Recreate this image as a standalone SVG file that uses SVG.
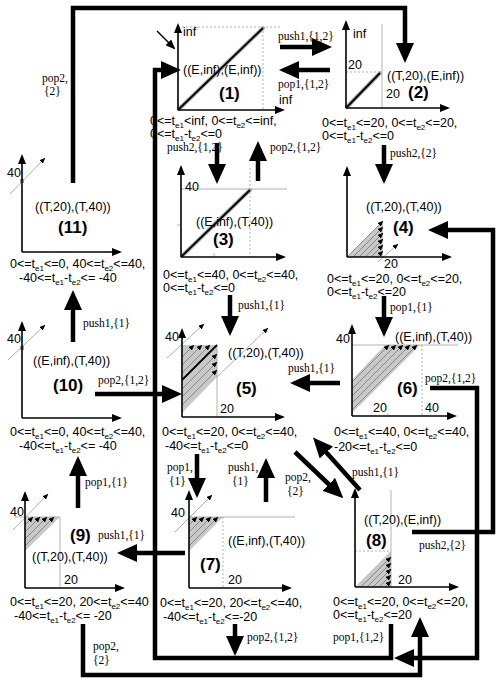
<svg xmlns="http://www.w3.org/2000/svg" width="500" height="684" viewBox="0 0 500 684">
<defs>
<style>
.t{font-family:"Liberation Sans",Arial,sans-serif;font-size:12.5px;fill:#000}
.s{font-size:8px}
.b{font-family:"Liberation Sans",Arial,sans-serif;font-weight:bold;font-size:17px;fill:#000}
.r{font-family:"Liberation Serif","Times New Roman",serif;font-size:11.5px;fill:#000}
.ax{stroke:#000;stroke-width:1.6;fill:none;marker-end:url(#ah)}
.th{stroke:#000;stroke-width:4.5;fill:none;stroke-linejoin:miter;marker-end:url(#big)}
.g{stroke:#aaa;stroke-width:0.9;fill:none}
.dot{stroke:#aaa;stroke-width:0.9;stroke-dasharray:2 2;fill:none}
.sh{fill:#c8c8c8;stroke:none}
.h{stroke:#777;stroke-width:0.8;marker-end:url(#sm)}
.da{stroke:#999;stroke-width:0.8;marker-end:url(#sm)}
.dg{stroke:#aaa;stroke-width:4;stroke-linecap:round}
.dk{stroke:#000;stroke-width:1.8}
</style>
<marker id="big" markerUnits="userSpaceOnUse" markerWidth="20" markerHeight="18" refX="14" refY="9" orient="auto"><path d="M0,0 L20,9 L0,18 z" fill="#000"/></marker>
<marker id="ah" markerUnits="userSpaceOnUse" markerWidth="10" markerHeight="8" refX="8" refY="4" orient="auto"><path d="M0,0 L10,4 L0,8 z" fill="#000"/></marker>
<marker id="sm" markerUnits="userSpaceOnUse" markerWidth="6" markerHeight="5" refX="5.5" refY="2.5" orient="auto"><path d="M0,0 L6,2.5 L0,5 z" fill="#000"/></marker>
</defs>

<g id="connectors">
<path class="th" d="M280,47 H326"/>
<path class="th" d="M330,70 H285"/>
<path class="th" d="M217,143 V178"/>
<path class="th" d="M258,181 V147"/>
<path class="th" d="M384,145 V178"/>
<path class="th" d="M230,295 V330"/>
<path class="th" d="M384,296 V331"/>
<path class="th" d="M340,383 H296"/>
<path class="th" d="M430,388 H477 V658 H400"/>
<path class="th" d="M391,624 V658 H155 V70 H175"/>
<path class="th" d="M83,624 V675 H420 V623"/>
<path class="th" d="M412,532 H493 V230 H434"/>
<path class="th" d="M235,624 V650"/>
<path class="th" d="M197,454 V492"/>
<path class="th" d="M266,502 V464"/>
<path class="th" d="M185,553 H123"/>
<path class="th" d="M78,508 V462"/>
<path class="th" d="M73,342 V296"/>
<path class="th" d="M73,183 V8 H405 V57"/>
<path class="th" d="M95,394 H176"/>
<path class="th" d="M295,452 L339,494"/>
<path class="th" d="M360,490 L317,442"/>
<path d="M157,31 L174,48" stroke="#000" stroke-width="1.4" marker-end="url(#ah)"/>
<text class="r" x="42" y="82">pop2,</text><text class="r" x="44" y="95">{2}</text>
<text class="r" x="278" y="40">push1,{1,2}</text>
<text class="r" x="278" y="88">pop1,{1,2}</text>
<text class="r" x="167" y="151">push2,{1,2}</text>
<text class="r" x="270" y="151">pop2,{1,2}</text>
<text class="r" x="390" y="157">push2,{2}</text>
<text class="r" x="238" y="309">push1,{1}</text>
<text class="r" x="390" y="311">pop1,{1}</text>
<text class="r" x="83" y="327">push1,{1}</text>
<text class="r" x="98" y="384">pop2,{1,2}</text>
<text class="r" x="288" y="372">push1,{1}</text>
<text class="r" x="425" y="382">pop2,{1,2}</text>
<text class="r" x="167" y="471">pop1,</text><text class="r" x="169" y="485">{1}</text>
<text class="r" x="228" y="471">push1,</text><text class="r" x="232" y="485">{1}</text>
<text class="r" x="285" y="481">pop2,</text><text class="r" x="287" y="495">{2}</text>
<text class="r" x="352" y="476">push1,{1}</text>
<text class="r" x="85" y="486">pop1,{1}</text>
<text class="r" x="98" y="539">push1,{1}</text>
<text class="r" x="419" y="549">push2,{2}</text>
<text class="r" x="333" y="641">pop1,{1,2}</text>
<text class="r" x="247" y="641">pop2,{1,2}</text>
<text class="r" x="93" y="650">pop2,</text><text class="r" x="93" y="664">{2}</text>
</g>

<g id="n1">
<path class="dot" d="M178,27 H282 M263,27 V110"/>
<line class="dg" x1="179" y1="109" x2="263" y2="28"/>
<line class="dk" x1="179" y1="109" x2="263" y2="28"/>
<path class="ax" d="M178,110 V25"/>
<path class="ax" d="M178,110 H283"/>
<text class="t" x="183" y="36">inf</text>
<text class="t" x="279" y="104">inf</text>
<text class="t" x="183" y="74">((E,inf),(E,inf))</text>
<text class="b" x="219" y="99">(1)</text>
<text class="t" x="150" y="125">0&lt;=t<tspan class="s" dy="2.5">e1</tspan><tspan dy="-2.5">&lt;inf, 0&lt;=t</tspan><tspan class="s" dy="2.5">e2</tspan><tspan dy="-2.5">&lt;=inf,</tspan></text>
<text class="t" x="150" y="138">0&lt;=t<tspan class="s" dy="2.5">e1</tspan><tspan dy="-2.5">-t</tspan><tspan class="s" dy="2.5">e2</tspan><tspan dy="-2.5">&lt;=0</tspan></text>
</g>

<g id="n2">
<path class="dot" d="M346,72 H380"/>
<path class="g" d="M382,24 V108"/>
<line class="dg" x1="347" y1="107" x2="380" y2="73"/>
<line class="dk" x1="347" y1="107" x2="380" y2="73"/>
<path class="ax" d="M346,108 V22"/>
<path class="ax" d="M346,108 H448"/>
<text class="t" x="353" y="38">inf</text>
<text class="t" x="348" y="69">20</text>
<text class="t" x="387" y="80">((T,20),(E,inf))</text>
<text class="t" x="386" y="98">20</text>
<text class="b" x="408" y="98">(2)</text>
<text class="t" x="322" y="127">0&lt;=t<tspan class="s" dy="2.5">e1</tspan><tspan dy="-2.5">&lt;=20, 0&lt;=t</tspan><tspan class="s" dy="2.5">e2</tspan><tspan dy="-2.5">&lt;=20,</tspan></text>
<text class="t" x="322" y="140">0&lt;=t<tspan class="s" dy="2.5">e1</tspan><tspan dy="-2.5">-t</tspan><tspan class="s" dy="2.5">e2</tspan><tspan dy="-2.5">&lt;=0</tspan></text>
</g>

<g id="n3">
<path class="g" d="M181,189 H287 M214,253 V257 M177,225 H181"/>
<path class="dot" d="M250,168 V257"/>
<line class="dg" x1="182" y1="256" x2="250" y2="190"/>
<line class="dk" x1="182" y1="256" x2="250" y2="190"/>
<path class="ax" d="M181,257 V167"/>
<path class="ax" d="M181,257 H284"/>
<text class="t" x="185" y="191">40</text>
<text class="t" x="196" y="226">((E,inf),(T,40))</text>
<text class="b" x="213" y="245">(3)</text>
<text class="t" x="163" y="279">0&lt;=t<tspan class="s" dy="2.5">e1</tspan><tspan dy="-2.5">&lt;=40, 0&lt;=t</tspan><tspan class="s" dy="2.5">e2</tspan><tspan dy="-2.5">&lt;=40,</tspan></text>
<text class="t" x="163" y="292">0&lt;=t<tspan class="s" dy="2.5">e1</tspan><tspan dy="-2.5">-t</tspan><tspan class="s" dy="2.5">e2</tspan><tspan dy="-2.5">&lt;=0</tspan></text>
</g>

<g id="n4">
<polygon class="sh" points="347,257 383,221 383,257"/>
<line class="h" x1="347" y1="257" x2="383" y2="221"/>
<line class="h" x1="353" y1="257" x2="383" y2="227"/>
<line class="h" x1="359" y1="257" x2="383" y2="233"/>
<line class="h" x1="365" y1="257" x2="383" y2="239"/>
<line class="h" x1="371" y1="257" x2="383" y2="245"/>
<line class="h" x1="377" y1="257" x2="383" y2="251"/>
<line class="da" x1="378" y1="262" x2="398" y2="244"/>
<path class="ax" d="M347,257 V168"/>
<path class="ax" d="M347,257 H450"/>
<text class="t" x="384" y="268">20</text>
<text class="t" x="366" y="211">((T,20),(T,40))</text>
<text class="b" x="393" y="233">(4)</text>
<text class="t" x="327" y="283">0&lt;=t<tspan class="s" dy="2.5">e1</tspan><tspan dy="-2.5">&lt;=20, 0&lt;=t</tspan><tspan class="s" dy="2.5">e2</tspan><tspan dy="-2.5">&lt;=20,</tspan></text>
<text class="t" x="327" y="296">0&lt;=t<tspan class="s" dy="2.5">e1</tspan><tspan dy="-2.5">-t</tspan><tspan class="s" dy="2.5">e2</tspan><tspan dy="-2.5">&lt;=20</tspan></text>
</g>

<g id="n5">
<polygon class="sh" points="182,345 217,345 217,377 182,413"/>
<path class="g" d="M217,345 V417"/>
<line class="h" x1="182" y1="405" x2="217" y2="370"/>
<line class="h" x1="182" y1="397" x2="217" y2="362"/>
<line class="h" x1="182" y1="389" x2="217" y2="354"/>
<line class="h" x1="182" y1="373" x2="210" y2="345"/>
<line class="h" x1="182" y1="365" x2="202" y2="345"/>
<line class="h" x1="182" y1="357" x2="194" y2="345"/>
<line x1="182" y1="380" x2="217" y2="345" stroke="#000" stroke-width="1.8"/>
<line class="da" x1="167" y1="358" x2="204" y2="324"/>
<line class="da" x1="217" y1="377" x2="268" y2="328"/>
<path class="ax" d="M182,417 V330"/>
<path class="ax" d="M182,417 H283"/>
<text class="t" x="165" y="341">40</text>
<text class="t" x="228" y="357">((T,20),(T,40))</text>
<text class="b" x="236" y="394">(5)</text>
<text class="t" x="220" y="413">20</text>
<text class="t" x="162" y="436">0&lt;=t<tspan class="s" dy="2.5">e1</tspan><tspan dy="-2.5">&lt;=20, 0&lt;=t</tspan><tspan class="s" dy="2.5">e2</tspan><tspan dy="-2.5">&lt;=40,</tspan></text>
<text class="t" x="165" y="450">-40&lt;=t<tspan class="s" dy="2.5">e1</tspan><tspan dy="-2.5">-t</tspan><tspan class="s" dy="2.5">e2</tspan><tspan dy="-2.5">&lt;=0</tspan></text>
</g>

<g id="n6">
<polygon class="sh" points="352,413 352,380 385,345 420,345"/>
<path class="g" d="M352,345 H458 M388,413 V416"/>
<path class="dot" d="M422,345 V416"/>
<line class="h" x1="352" y1="382" x2="389" y2="345"/>
<line class="h" x1="352" y1="389" x2="396" y2="345"/>
<line class="h" x1="352" y1="396" x2="403" y2="345"/>
<line class="h" x1="352" y1="403" x2="410" y2="345"/>
<line class="h" x1="352" y1="410" x2="417" y2="345"/>
<path class="ax" d="M352,416 V326"/>
<path class="ax" d="M352,416 H455"/>
<text class="t" x="336" y="343">40</text>
<text class="t" x="395" y="341">((E,inf),(T,40))</text>
<text class="b" x="397" y="394">(6)</text>
<text class="t" x="373" y="412">20</text>
<text class="t" x="425" y="412">40</text>
<text class="t" x="334" y="436">0&lt;=t<tspan class="s" dy="2.5">e1</tspan><tspan dy="-2.5">&lt;=40, 0&lt;=t</tspan><tspan class="s" dy="2.5">e2</tspan><tspan dy="-2.5">&lt;=40,</tspan></text>
<text class="t" x="334" y="451">-20&lt;=t<tspan class="s" dy="2.5">e1</tspan><tspan dy="-2.5">-t</tspan><tspan class="s" dy="2.5">e2</tspan><tspan dy="-2.5">&lt;=0</tspan></text>
</g>

<g id="n7">
<polygon class="sh" points="189,517 223,517 189,551"/>
<path class="g" d="M189,517 H295"/>
<path class="dot" d="M223,517 V588"/>
<line class="h" x1="189" y1="525" x2="197" y2="517"/>
<line class="h" x1="189" y1="532" x2="204" y2="517"/>
<line class="h" x1="189" y1="539" x2="211" y2="517"/>
<line class="h" x1="189" y1="546" x2="218" y2="517"/>
<line class="da" x1="175" y1="532" x2="212" y2="495"/>
<path class="ax" d="M189,588 V492"/>
<path class="ax" d="M189,588 H290"/>
<text class="t" x="171" y="517">40</text>
<text class="t" x="228" y="545">((E,inf),(T,40))</text>
<text class="b" x="200" y="570">(7)</text>
<text class="t" x="228" y="584">20</text>
<text class="t" x="160" y="607">0&lt;=t<tspan class="s" dy="2.5">e1</tspan><tspan dy="-2.5">&lt;=20, 20&lt;=t</tspan><tspan class="s" dy="2.5">e2</tspan><tspan dy="-2.5">&lt;=40,</tspan></text>
<text class="t" x="163" y="621">-40&lt;=t<tspan class="s" dy="2.5">e1</tspan><tspan dy="-2.5">-t</tspan><tspan class="s" dy="2.5">e2</tspan><tspan dy="-2.5">&lt;=-20</tspan></text>
</g>

<g id="n8">
<polygon class="sh" points="355,587 391,587 391,551"/>
<path class="g" d="M391,490 V587"/>
<path class="dot" d="M355,551 H391"/>
<line class="h" x1="361" y1="587" x2="391" y2="557"/>
<line class="h" x1="367" y1="587" x2="391" y2="563"/>
<line class="h" x1="373" y1="587" x2="391" y2="569"/>
<line class="h" x1="379" y1="587" x2="391" y2="575"/>
<line class="h" x1="385" y1="587" x2="391" y2="581"/>
<path class="ax" d="M355,587 V490"/>
<path class="ax" d="M355,587 H457"/>
<text class="t" x="398" y="584">20</text>
<text class="t" x="364" y="524">((T,20),(E,inf))</text>
<text class="b" x="366" y="546">(8)</text>
<text class="t" x="333" y="606">0&lt;=t<tspan class="s" dy="2.5">e1</tspan><tspan dy="-2.5">&lt;=20, 0&lt;=t</tspan><tspan class="s" dy="2.5">e2</tspan><tspan dy="-2.5">&lt;=20,</tspan></text>
<text class="t" x="333" y="619">0&lt;=t<tspan class="s" dy="2.5">e1</tspan><tspan dy="-2.5">-t</tspan><tspan class="s" dy="2.5">e2</tspan><tspan dy="-2.5">&lt;=20</tspan></text>
</g>

<g id="n9">
<polygon class="sh" points="25,517 60,517 25,551"/>
<path class="g" d="M15,517 H60 V588"/>
<line class="h" x1="25" y1="525" x2="33" y2="517"/>
<line class="h" x1="25" y1="532" x2="40" y2="517"/>
<line class="h" x1="25" y1="539" x2="47" y2="517"/>
<line class="h" x1="25" y1="546" x2="54" y2="517"/>
<line class="da" x1="13" y1="530" x2="48" y2="494"/>
<path class="ax" d="M25,588 V493"/>
<path class="ax" d="M25,588 H123"/>
<text class="t" x="10" y="516">40</text>
<text class="b" x="70" y="541">(9)</text>
<text class="t" x="32" y="561">((T,20),(T,40))</text>
<text class="t" x="64" y="584">20</text>
<text class="t" x="10" y="606">0&lt;=t<tspan class="s" dy="2.5">e1</tspan><tspan dy="-2.5">&lt;=20, 20&lt;=t</tspan><tspan class="s" dy="2.5">e2</tspan><tspan dy="-2.5">&lt;=40</tspan></text>
<text class="t" x="14" y="620">-40&lt;=t<tspan class="s" dy="2.5">e1</tspan><tspan dy="-2.5">-t</tspan><tspan class="s" dy="2.5">e2</tspan><tspan dy="-2.5">&lt;= -20</tspan></text>
</g>

<g id="n10">
<line class="da" x1="8" y1="360" x2="45" y2="325"/>
<rect x="20" y="346" width="4" height="4" fill="#999"/>
<path class="ax" d="M22,418 V323"/>
<path class="ax" d="M22,418 H120"/>
<text class="t" x="7" y="343">40</text>
<text class="t" x="33" y="365">((E,inf),(T,40))</text>
<text class="b" x="53" y="391">(10)</text>
<text class="t" x="10" y="436">0&lt;=t<tspan class="s" dy="2.5">e1</tspan><tspan dy="-2.5">&lt;=0, 40&lt;=t</tspan><tspan class="s" dy="2.5">e2</tspan><tspan dy="-2.5">&lt;=40,</tspan></text>
<text class="t" x="19" y="450">-40&lt;=t<tspan class="s" dy="2.5">e1</tspan><tspan dy="-2.5">-t</tspan><tspan class="s" dy="2.5">e2</tspan><tspan dy="-2.5">&lt;= -40</tspan></text>
</g>

<g id="n11">
<line class="da" x1="10" y1="194" x2="45" y2="158"/>
<rect x="20" y="179" width="4" height="4" fill="#999"/>
<path class="ax" d="M22,252 V156"/>
<path class="ax" d="M22,252 H120"/>
<text class="t" x="7" y="177">40</text>
<text class="t" x="35" y="211">((T,20),(T,40))</text>
<text class="b" x="58" y="233">(11)</text>
<text class="t" x="10" y="268">0&lt;=t<tspan class="s" dy="2.5">e1</tspan><tspan dy="-2.5">&lt;=0, 40&lt;=t</tspan><tspan class="s" dy="2.5">e2</tspan><tspan dy="-2.5">&lt;=40,</tspan></text>
<text class="t" x="19" y="282">-40&lt;=t<tspan class="s" dy="2.5">e1</tspan><tspan dy="-2.5">-t</tspan><tspan class="s" dy="2.5">e2</tspan><tspan dy="-2.5">&lt;= -40</tspan></text>
</g>
</svg>
